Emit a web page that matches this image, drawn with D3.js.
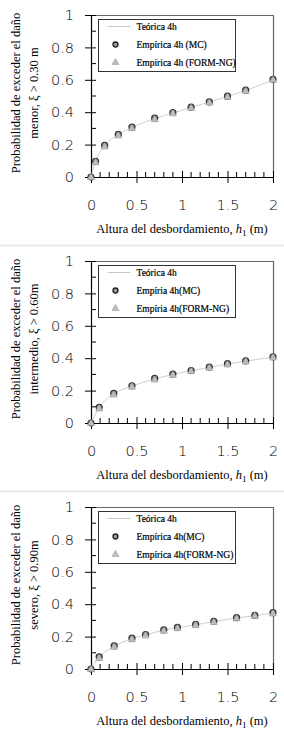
<!DOCTYPE html>
<html>
<head>
<meta charset="utf-8">
<script src="https://cdn.jsdelivr.net/npm/d3@7"></script>
<style>
  body { margin: 0; background: #fff; }
  svg { display: block; }
</style>
</head>
<body>
<svg id="chart" width="284" height="737"></svg>
<script>
// tick values
const xTicks = [0, 0.5, 1, 1.5, 2];
const yTicks = [0, 0.2, 0.4, 0.6, 0.8, 1];
const xMinor = [0.1, 0.2, 0.3, 0.4, 0.6, 0.7, 0.8, 0.9, 1.1, 1.2, 1.3, 1.4, 1.6, 1.7, 1.8, 1.9];
const yMinor = [0.1, 0.3, 0.5, 0.7, 0.9];

// panel 1 - daño menor
const menorH    = [0, 0.05, 0.15, 0.3, 0.45, 0.7, 0.9, 1.1, 1.3, 1.5, 1.7, 2.0];
const menorTeo  = [0, 0.097, 0.193, 0.261, 0.306, 0.361, 0.396, 0.429, 0.462, 0.497, 0.534, 0.600];
const menorMC   = [0, 0.097, 0.195, 0.263, 0.308, 0.364, 0.398, 0.431, 0.464, 0.499, 0.536, 0.603];
const menorFORM = [0, 0.092, 0.189, 0.257, 0.302, 0.357, 0.393, 0.427, 0.460, 0.495, 0.532, 0.600];

// panel 2 - daño intermedio
const interH    = [0, 0.09, 0.25, 0.45, 0.7, 0.9, 1.1, 1.3, 1.5, 1.7, 2.0];
const interTeo  = [0, 0.095, 0.180, 0.228, 0.272, 0.300, 0.322, 0.343, 0.364, 0.382, 0.407];
const interMC   = [0, 0.097, 0.183, 0.230, 0.275, 0.302, 0.324, 0.345, 0.366, 0.384, 0.409];
const interFORM = [0, 0.090, 0.176, 0.224, 0.269, 0.297, 0.320, 0.341, 0.362, 0.380, 0.405];

// panel 3 - daño severo
const severoH    = [0, 0.09, 0.255, 0.45, 0.6, 0.8, 0.95, 1.15, 1.35, 1.6, 1.8, 2.0];
const severoTeo  = [0, 0.072, 0.140, 0.188, 0.211, 0.240, 0.255, 0.273, 0.292, 0.315, 0.329, 0.344];
const severoMC   = [0, 0.075, 0.143, 0.190, 0.213, 0.242, 0.257, 0.275, 0.294, 0.317, 0.331, 0.348];
const severoFORM = [0, 0.068, 0.137, 0.184, 0.207, 0.237, 0.252, 0.271, 0.290, 0.313, 0.328, 0.343];

const panels = [
    { top: 15, h: menorH, teo: menorTeo, mc: menorMC, form: menorFORM,
      ylab: ["Probabilidad de exceder el daño", "menor, ξ > 0.30 m"],
      leg: ["Teórica 4h", "Empírica 4h (MC)", "Empírica 4h (FORM-NG)"] },
    { top: 261, h: interH, teo: interTeo, mc: interMC, form: interFORM,
      ylab: ["Probabilidad de exceder el daño", "intermedio, ξ > 0.60m"],
      leg: ["Teórica 4h", "Empíria 4h(MC)", "Empíria 4h(FORM-NG)"] },
    { top: 507, h: severoH, teo: severoTeo, mc: severoMC, form: severoFORM,
      ylab: ["Probabilidad de exceder el daño", "severo, ξ > 0.90m"],
      leg: ["Teórica 4h", "Empírica 4h(MC)", "Empírica 4h(FORM-NG)"] }
];

const svg = d3.select("#chart");
const left = 91, width = 182, height = 162;

const x = d3.scaleLinear().domain([0, 2]).range([0, width]);
const y = d3.scaleLinear().domain([0, 1]).range([height, 0]);

// separators between panels
[245.5, 491.5].forEach(sy => {
    svg.append("line")
        .attr("x1", 0).attr("x2", 284)
        .attr("y1", sy).attr("y2", sy)
        .attr("stroke", "#e3e3e3").attr("stroke-width", 1.5);
});

panels.forEach(p => {
    const g = svg.append("g").attr("transform", `translate(${left},${p.top})`);

    // frame top / right
    g.append("path")
        .attr("d", `M0,0.5H${width + 0.5}V${height}`)
        .attr("fill", "none").attr("stroke", "#666").attr("stroke-width", 1.2);

    // minor ticks (inside)
    g.selectAll(".xminor").data(xMinor).enter().append("line")
        .attr("x1", d => x(d)).attr("x2", d => x(d))
        .attr("y1", height).attr("y2", height - 5)
        .attr("stroke", "#000");
    g.selectAll(".yminor").data(yMinor).enter().append("line")
        .attr("x1", 0).attr("x2", 5)
        .attr("y1", d => y(d)).attr("y2", d => y(d))
        .attr("stroke", "#000");

    // axes with crossing major ticks
    const xAxis = g.append("g").attr("transform", `translate(0,${height})`)
        .call(d3.axisBottom(x).tickValues(xTicks).tickSize(6).tickSizeOuter(0).tickPadding(17)
            .tickFormat(d3.format("")));
    xAxis.selectAll(".tick line").attr("y1", -6);
    const yAxis = g.append("g")
        .call(d3.axisLeft(y).tickValues(yTicks).tickSize(6).tickSizeOuter(0).tickPadding(11)
            .tickFormat(d3.format("")));
    yAxis.selectAll(".tick line").attr("x1", 5);
    [xAxis, yAxis].forEach(a => {
        a.select(".domain").attr("stroke", "#000").attr("stroke-width", 1.2);
        a.selectAll("text").attr("font-family", "'DejaVu Sans', sans-serif")
            .attr("font-weight", 300)
            .attr("font-size", 14.5).attr("fill", "#000");
    });

    // theoretical line
    const line = d3.line()
        .x((d, i) => x(p.h[i]))
        .y(d => y(d))
        .curve(d3.curveMonotoneX);
    g.append("path").datum(p.teo)
        .attr("d", line)
        .attr("fill", "none").attr("stroke", "#cfcfcf").attr("stroke-width", 1);

    // MC circles
    g.selectAll(".mc").data(p.mc).enter().append("circle")
        .attr("cx", (d, i) => x(p.h[i])).attr("cy", d => y(d))
        .attr("r", 3)
        .attr("fill", "#9a9a9a").attr("stroke", "#333").attr("stroke-width", 1.2);

    // FORM-NG triangles
    const tri = d3.symbol().type(d3.symbolTriangle).size(22);
    g.selectAll(".form").data(p.form).enter().append("path")
        .attr("d", tri)
        .attr("transform", (d, i) => `translate(${x(p.h[i])},${y(d) + 0.5})`)
        .attr("fill", "#bdbdbd").attr("stroke", "#a0a0a0").attr("stroke-width", 0.6);

    // legend
    const lg = g.append("g").attr("transform", "translate(7.5,4.5)");
    lg.append("rect").attr("width", 137).attr("height", 52)
        .attr("fill", "#fff").attr("stroke", "#333").attr("stroke-width", 1);
    lg.append("line").attr("x1", 9).attr("x2", 32).attr("y1", 7).attr("y2", 7)
        .attr("stroke", "#c8c8c8");
    lg.append("circle").attr("cx", 17).attr("cy", 25).attr("r", 2.5)
        .attr("fill", "#9a9a9a").attr("stroke", "#222").attr("stroke-width", 1.3);
    lg.append("path").attr("d", tri)
        .attr("transform", "translate(17,43)")
        .attr("fill", "#bdbdbd").attr("stroke", "#a0a0a0").attr("stroke-width", 0.6);
    lg.selectAll(".lt").data(p.leg).enter().append("text")
        .attr("x", 38).attr("y", (d, i) => 10 + i * 18)
        .attr("font-family", "'Liberation Serif', 'Times New Roman', serif")
        .attr("font-size", 9.5).attr("fill", "#000")
        .attr("stroke", "#000").attr("stroke-width", 0.2)
        .text(d => d);

    // x title
    const xt = g.append("text")
        .attr("x", width / 2).attr("y", height + 56)
        .attr("text-anchor", "middle")
        .attr("font-family", "'Liberation Serif', 'Times New Roman', serif")
        .attr("font-size", 12.5).attr("fill", "#000");
    xt.append("tspan").text("Altura del desbordamiento, ");
    xt.append("tspan").attr("font-style", "italic").text("h");
    xt.append("tspan").attr("font-size", 9).attr("dy", 3).text("1");
    xt.append("tspan").attr("dy", -3).text(" (m)");

    // y title
    const yt = g.append("text")
        .attr("transform", `translate(${-71},${height / 2 - 3}) rotate(-90)`)
        .attr("text-anchor", "middle")
        .attr("font-family", "'Liberation Serif', 'Times New Roman', serif")
        .attr("font-size", 12.5).attr("fill", "#000");
    yt.selectAll("tspan").data(p.ylab).enter().append("tspan")
        .attr("x", 0).attr("dy", (d, i) => i === 0 ? 0 : 18)
        .text(d => d);
});
</script>
</body>
</html>
